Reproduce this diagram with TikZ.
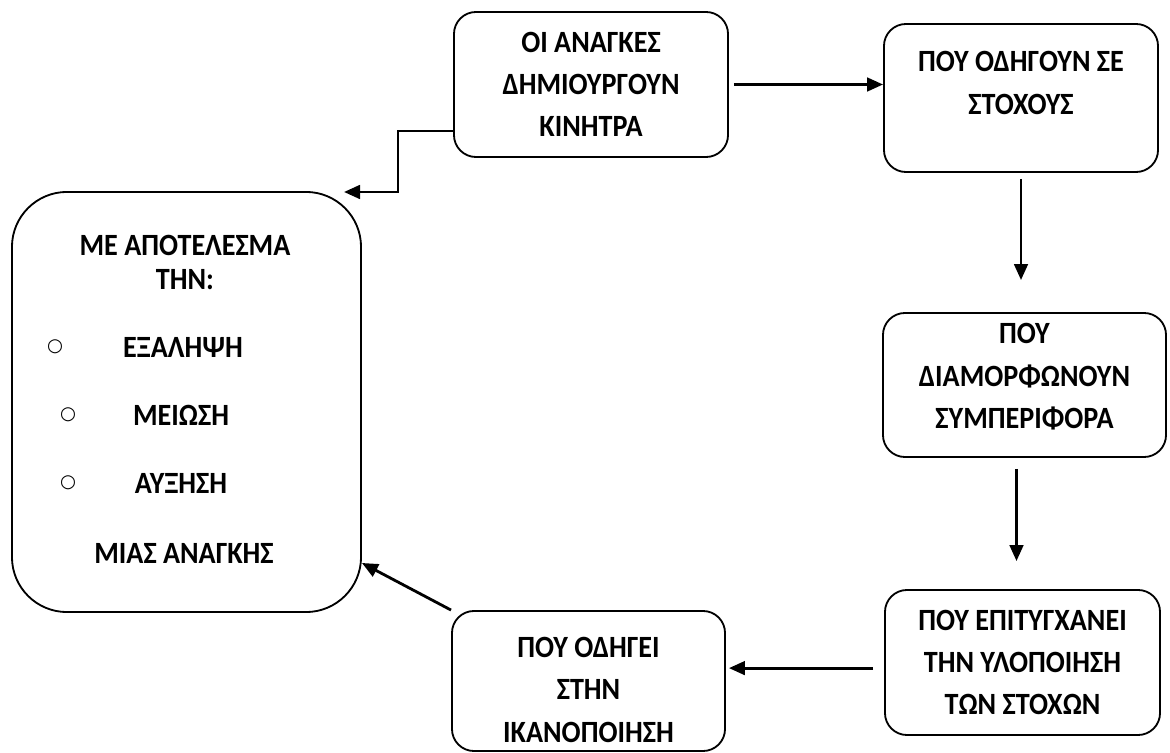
\documentclass[tikz,border=0pt]{standalone}
\usepackage{fontspec}
\setmainfont{Carlito}[FakeStretch=0.91]
\newfontfamily\bulletfont{DejaVu Sans}
\usetikzlibrary{arrows.meta}

\begin{document}
\begin{tikzpicture}[x=0.025cm,y=-0.025cm,>={Triangle[length=0.4cm,width=0.34cm]},
  line width=1.3pt,
  box/.style={draw,rounded corners=0.55cm,minimum width=6.85cm,minimum height=3.6cm,
    align=center,inner ysep=2pt,font=\fontsize{22}{30}\selectfont\bfseries},
  txt/.style={font=\fontsize{22}{30}\selectfont\bfseries},
  dot/.style={font=\bulletfont\fontsize{13}{14}\selectfont},
  link/.style={->,line width=2pt}]

  \useasboundingbox (0,0) rectangle (1170,753);

  \node[box,minimum height=3.625cm] (a) at (591,84.5) {ΟΙ ΑΝΑΓΚΕΣ\\ΔΗΜΙΟΥΡΓΟΥΝ\\ΚΙΝΗΤΡΑ};
  \node[box,minimum height=3.7cm] (b) at (1021,98) {ΠΟΥ ΟΔΗΓΟΥΝ ΣΕ\\ΣΤΟΧΟΥΣ\\[-8.5pt]~};
  \node[box,minimum width=7.075cm] (c) at (1024.5,385)
    {ΠΟΥ\\ΔΙΑΜΟΡΦΩΝΟΥΝ\\ΣΥΜΠΕΡΙΦΟΡΑ\rule[-0.45cm]{0pt}{0pt}};
  \node[box,minimum width=6.875cm,minimum height=3.625cm] (d) at (1022.5,662.5)
    {ΠΟΥ ΕΠΙΤΥΓΧΑΝΕΙ\\ΤΗΝ ΥΛΟΠΟΙΗΣΗ\\ΤΩΝ ΣΤΟΧΩΝ};
  \node[box,minimum width=6.825cm,minimum height=3.5cm,inner ysep=0pt] (e) at (588.5,681)
    {\rule{0pt}{0.95cm}ΠΟΥ ΟΔΗΓΕΙ\\ΣΤΗΝ\\ΙΚΑΝΟΠΟΙΗΣΗ};
  \node[draw,rounded corners=1.375cm,minimum width=8.725cm,minimum height=10.5cm] (f)
    at (186.5,402) {};

  % text of the result box
  \node[txt] (f1) at (185,245) {ΜΕ ΑΠΟΤΕΛΕΣΜΑ};
  \node[txt] (f2) at (185,280) {ΤΗΝ:};
  \node[txt] (f3) at (183,347) {ΕΞΑΛΗΨΗ};
  \node[txt] (f4) at (181,415) {ΜΕΙΩΣΗ};
  \node[txt] (f5) at (181,483) {ΑΥΞΗΣΗ};
  \node[txt] (f6) at (184,553) {ΜΙΑΣ ΑΝΑΓΚΗΣ};
  \node[dot] (o3) at (55,347) {○};
  \node[dot] (o4) at (68,415) {○};
  \node[dot] (o5) at (68,483) {○};

  \coordinate (fin) at (344,192);

  \draw[link,shorten <=0.125cm] (a.east) -- (a.east -| b.west);
  \draw[link] (a.south west |- 0,131) -| (398,192) -- (fin);
  \draw[link,shorten <=0.15cm,shorten >=0.8cm] (b.south) -- (b.south |- c.north);
  \draw[link,shorten <=0.275cm,shorten >=0.7cm]
    ([xshift=-0.2cm]c.south) -- ([xshift=-0.2cm]c.south |- d.north);
  \draw[link,shorten <=0.275cm,shorten >=0.075cm]
    ([yshift=-0.14cm]d.west) -- ([yshift=-0.14cm]d.west -| e.east);
  \draw[link] (e.north west) -- (f.east |- 0,563);
\end{tikzpicture}
\end{document}
